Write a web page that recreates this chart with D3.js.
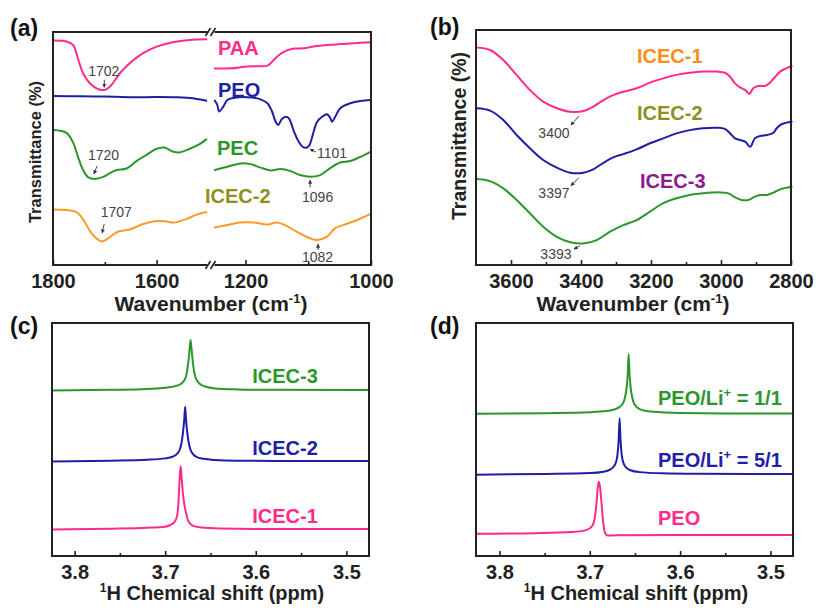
<!DOCTYPE html>
<html><head><meta charset="utf-8">
<script src="https://cdn.jsdelivr.net/npm/d3@7"></script>
<style>body{margin:0;background:#fff}svg{display:block}</style>
</head><body><svg id="c" width="816" height="608"></svg>
<script>
// ================= DATA =================
// Panel (a) FTIR, broken wavenumber axis (1800-1500 | 1255-1000), transmittance a.u.
const aTicksMajorLow = [1800, 1600];
const aTicksMinorLow = [1700];
const aTicksMajorHigh = [1200, 1000];
const aTicksMinorHigh = [1100];
const aSeriesNames = ["PAA", "PEO", "PEC", "ICEC-2"];
const aPAALow = [[1800,96.3],[1774,95.9],[1761,94.4],[1751,88.0],[1742,82.3],[1729,78.0],[1716,75.8],[1706,75.1],[1697,75.4],[1687,77.3],[1671,82.3],[1652,86.6],[1626,90.9],[1600,93.7],[1569,95.6],[1537,96.6],[1504,96.9]];
const aPAAHigh = [[1249,84.3],[1224,84.4],[1197,85.2],[1176,85.3],[1165,85.6],[1158,87.1],[1150,89.4],[1139,91.5],[1128,92.6],[1120,92.9],[1107,93.0],[1091,93.8],[1070,94.4],[1049,94.8],[1027,95.2],[1001,95.6]];
const aPEOLow = [[1800,72.5],[1750,72.4],[1700,72.3],[1650,72.0],[1600,72.1],[1560,72.0],[1530,71.6],[1515,71.0],[1504,70.5]];
const aPEOHigh = [[1249,70.6],[1245,68.7],[1242,65.9],[1235,68.2],[1229,70.8],[1219,71.7],[1197,72.0],[1176,71.1],[1165,69.4],[1158,66.1],[1152,61.5],[1148,60.1],[1142,62.7],[1136,63.6],[1131,63.0],[1123,57.5],[1115,52.8],[1108,50.6],[1102,50.4],[1098,51.5],[1094,54.7],[1086,61.4],[1078,63.6],[1070,64.7],[1065,63.1],[1062,61.5],[1057,63.6],[1049,67.3],[1033,69.4],[1017,70.4],[1001,70.8]];
const aPECLow = [[1800,57.9],[1774,56.7],[1761,52.4],[1751,45.9],[1742,40.8],[1732,37.6],[1719,36.9],[1703,37.8],[1690,39.4],[1677,40.8],[1658,41.4],[1639,44.6],[1620,47.2],[1601,49.8],[1585,50.4],[1569,48.7],[1556,48.3],[1537,49.8],[1517,51.9],[1504,53.9]];
const aPECHigh = [[1249,40.8],[1229,42.2],[1208,43.6],[1192,43.3],[1176,41.8],[1160,40.6],[1144,41.2],[1128,40.3],[1113,38.6],[1097,37.9],[1081,38.6],[1065,41.6],[1049,44.0],[1033,44.6],[1017,46.4],[1001,48.6]];
const aICEC2Low = [[1800,23.8],[1761,23.2],[1752,22.3],[1740,18.9],[1726,13.7],[1713,10.9],[1705,10.1],[1690,12.0],[1674,14.4],[1652,15.2],[1626,17.6],[1600,18.9],[1581,18.7],[1567,18.2],[1543,19.7],[1524,21.5],[1504,22.7]];
const aICEC2High = [[1249,16.1],[1229,17.2],[1208,18.2],[1187,18.2],[1165,17.4],[1150,18.2],[1134,16.7],[1118,14.2],[1102,12.0],[1086,10.7],[1070,12.2],[1057,15.8],[1044,17.2],[1022,19.3],[1001,21.9]];
const aPeakLabels = ["1702", "1720", "1707", "1101", "1096", "1082"];

// Panel (b) FTIR 3700-2800
const bTicksMajor = [3600, 3400, 3200, 3000, 2800];
const bTicksMinor = [3500, 3300, 3100, 2900];
const bSeriesNames = ["ICEC-1", "ICEC-2", "ICEC-3"];
const bICEC1 = [[3698,92.5],[3660,91.5],[3622,87.2],[3584,80.9],[3546,74.5],[3508,69.5],[3469,66.7],[3431,65.2],[3393,65.5],[3365,67.4],[3336,70.2],[3308,72.3],[3279,73.7],[3241,75.2],[3203,77.6],[3165,79.4],[3127,80.9],[3089,81.8],[3051,82.3],[3012,82.3],[2989,81.8],[2974,80.1],[2960,77.3],[2946,75.6],[2931,74.5],[2919,72.8],[2908,75.2],[2893,76.2],[2874,76.2],[2860,77.6],[2846,79.9],[2831,82.3],[2798,84.7]];
const bICEC2 = [[3698,66.7],[3660,65.7],[3622,61.7],[3584,55.3],[3546,49.7],[3508,44.7],[3469,41.4],[3431,39.3],[3393,39.3],[3365,40.7],[3336,43.5],[3308,45.8],[3279,47.2],[3241,49.2],[3203,51.8],[3165,53.9],[3127,56.0],[3089,57.4],[3051,58.2],[3012,58.4],[2989,57.9],[2974,56.0],[2960,53.9],[2946,53.2],[2931,52.5],[2917,50.3],[2903,53.9],[2888,54.9],[2869,55.3],[2850,56.3],[2841,58.2],[2826,60.0],[2798,61.0]];
const bICEC3 = [[3698,36.6],[3660,35.7],[3622,32.6],[3584,27.7],[3546,22.0],[3508,16.3],[3469,12.0],[3431,9.7],[3393,9.2],[3355,10.6],[3317,14.2],[3279,17.0],[3241,19.1],[3203,22.7],[3165,26.3],[3127,28.4],[3089,29.8],[3051,30.5],[3003,30.9],[2979,30.5],[2960,28.8],[2941,27.7],[2922,27.7],[2903,29.1],[2888,29.8],[2869,29.8],[2850,30.8],[2831,32.2],[2798,33.3]];
const bPeakLabels = ["3400", "3397", "3393"];

// Panels (c),(d) 1H NMR, chemical shift (ppm) vs intensity a.u.
const nmrTicksMajor = [3.8, 3.7, 3.6, 3.5];
const nmrTicksMinor = [3.75, 3.65, 3.55];
const cSeriesNames = ["ICEC-3", "ICEC-2", "ICEC-1"];
const cICEC3 = [[3.825,71.0],[3.76,71.3],[3.72,71.7],[3.70,72.2],[3.69,72.8],[3.684,73.6],[3.680,74.8],[3.677,77.2],[3.675,81.5],[3.6735,87],[3.672,92.7],[3.6705,87],[3.669,81.5],[3.667,77.2],[3.664,74.8],[3.660,73.4],[3.654,72.5],[3.645,71.9],[3.62,71.5],[3.58,71.3],[3.475,71.2]];
const cICEC2 = [[3.825,40.6],[3.76,40.9],[3.72,41.3],[3.70,41.9],[3.692,42.6],[3.687,43.8],[3.684,45.6],[3.682,48.5],[3.6805,52.5],[3.679,58.5],[3.678,64.1],[3.677,58.5],[3.6755,52.5],[3.674,48.5],[3.672,45.5],[3.669,43.6],[3.665,42.4],[3.658,41.7],[3.645,41.2],[3.62,40.9],[3.58,40.8],[3.475,40.8]];
const cICEC1 = [[3.825,11.4],[3.76,11.7],[3.72,12.1],[3.70,12.6],[3.695,13.2],[3.690,14.5],[3.687,17],[3.6855,22],[3.6845,30],[3.683,38.6],[3.682,34],[3.6805,27],[3.679,22.5],[3.677,18.5],[3.675,15.5],[3.672,13.7],[3.668,12.8],[3.66,12.2],[3.64,11.8],[3.60,11.6],[3.475,11.6]];
const dSeriesNames = ["1/1", "5/1", "PEO"];
const dRatio11 = [[3.826,61.0],[3.75,61.3],[3.70,61.7],[3.68,62.3],[3.672,63.0],[3.667,64.0],[3.663,65.7],[3.661,68],[3.6595,71.5],[3.658,78],[3.657,86.7],[3.656,78],[3.6545,71.5],[3.653,68],[3.651,65.5],[3.647,63.6],[3.642,62.6],[3.63,61.9],[3.60,61.4],[3.55,61.2],[3.475,61.2]];
const dRatio51 = [[3.826,34.9],[3.75,35.2],[3.70,35.6],[3.685,36.2],[3.678,37.0],[3.674,38.2],[3.671,40.2],[3.6695,43],[3.668,50],[3.667,59.1],[3.666,50],[3.6645,43],[3.663,40.2],[3.660,38.0],[3.655,36.8],[3.645,36.0],[3.62,35.5],[3.58,35.3],[3.475,35.2]];
const dPEO = [[3.826,9.5],[3.76,9.8],[3.72,10.3],[3.705,11.0],[3.699,12.2],[3.696,14.0],[3.694,17.5],[3.6925,23],[3.691,30],[3.690,31.9],[3.689,30.5],[3.6875,25],[3.686,18],[3.6845,12.5],[3.683,9.8],[3.680,8.8],[3.67,8.9],[3.60,9.0],[3.475,9.0]];

// ================= STYLE =================
const FONT = "Arial, 'Liberation Sans', Helvetica, sans-serif";
const INK = "#222";
const PINK = "#ff2a8c", BLUE = "#1e1ea6", GREEN = "#2b972b", ORANGE = "#ff9a2a";
const OLIVE = "#8f8f1c", PURPLE = "#8c1a8c", LORANGE = "#ff8c1a", GRAYTXT = "#444";

const svg = d3.select("#c");
svg.append("rect").attr("width", 816).attr("height", 608).attr("fill", "#fff");
const defs = svg.append("defs");
defs.append("marker").attr("id", "ah").attr("viewBox", "0 0 10 10").attr("refX", 9).attr("refY", 5)
  .attr("markerWidth", 4).attr("markerHeight", 4).attr("orient", "auto")
  .append("path").attr("d", "M0,0L10,5L0,10z").attr("fill", "#333");

function line(g, data, xs, ys, color, curve) {
  g.append("path").datum(data).attr("fill", "none").attr("stroke", color).attr("stroke-width", 2)
    .attr("stroke-linejoin", "round").attr("stroke-linecap", "round")
    .attr("d", d3.line().x(d => xs(d[0])).y(d => ys(d[1])).curve(curve || d3.curveCatmullRom.alpha(0.5)));
}
function frame(g, x0, y0, x1, y1) {
  g.append("rect").attr("x", x0).attr("y", y0).attr("width", x1 - x0).attr("height", y1 - y0)
    .attr("fill", "none").attr("stroke", INK).attr("stroke-width", 2);
}
function axis(g, scale, y, major, minor, fmt) {
  g.append("g").attr("transform", `translate(0,${y})`)
    .call(d3.axisBottom(scale).tickValues(minor).tickSize(-3).tickFormat(""))
    .call(a => { a.select(".domain").remove(); a.selectAll("line").attr("stroke", INK).attr("stroke-width", 1.6); });
  g.append("g").attr("transform", `translate(0,${y})`)
    .call(d3.axisBottom(scale).tickValues(major).tickSize(-5).tickPadding(8.5).tickFormat(fmt))
    .call(a => {
      a.select(".domain").remove();
      a.selectAll("line").attr("stroke", INK).attr("stroke-width", 1.6);
      a.selectAll("text").attr("font-family", FONT).attr("font-size", 20).attr("font-weight", "bold").attr("fill", INK);
    });
}
function txt(g, x, y, s, color, size, anchor, weight) {
  return g.append("text").attr("x", x).attr("y", y).attr("fill", color).attr("font-family", FONT)
    .attr("font-size", size).attr("font-weight", weight || "bold").attr("text-anchor", anchor || "start").text(s);
}
function annot(g, label, px, py, o) {
  txt(g, px + o.tdx, py + o.tdy, label, GRAYTXT, 14, o.anchor || "middle", "normal");
  g.append("line").attr("x1", px + o.a[0]).attr("y1", py + o.a[1]).attr("x2", px + o.a[2]).attr("y2", py + o.a[3])
    .attr("stroke", "#444").attr("stroke-width", 1).attr("marker-end", "url(#ah)");
}
function wavenumberLabel(g, cx, y) {
  const t = txt(g, cx, y, "Wavenumber (cm", INK, 21, "middle");
  t.append("tspan").attr("dy", -8).attr("font-size", 13).text("-1");
  t.append("tspan").attr("dy", 8).text(")");
}
function ylabel(g, x, y, size) {
  txt(g, 0, 0, "Transmittance (%)", INK, size, "middle").attr("transform", `translate(${x},${y}) rotate(-90)`);
}
function nmrLabel(g, cx, y) {
  const t = txt(g, cx, y, "", INK, 20, "middle");
  t.append("tspan").attr("font-size", 12).attr("dy", -8).text("1");
  t.append("tspan").attr("dy", 8).text("H Chemical shift (ppm)");
}

// ================= PANEL (a) =================
const ga = svg.append("g");
const xaL = d3.scaleLinear().domain([1800, 1495]).range([53, 211]);
const xaR = d3.scaleLinear().domain([1255, 1000]).range([211, 371]);
const ya = d3.scaleLinear().domain([0, 100]).range([265, 32]);
[[aPAALow, aPAAHigh, PINK], [aPEOLow, aPEOHigh, BLUE], [aPECLow, aPECHigh, GREEN], [aICEC2Low, aICEC2High, ORANGE]]
  .forEach(([lo, hi, c]) => { line(ga, lo, xaL, ya, c); line(ga, hi, xaR, ya, c); });
frame(ga, 53, 32, 371, 265);
axis(ga, xaL, 265, aTicksMajorLow, aTicksMinorLow, d3.format("d"));
axis(ga, xaR, 265, aTicksMajorHigh, aTicksMinorHigh, d3.format("d"));
// axis break marks
[32, 265].forEach(yb => {
  ga.append("rect").attr("x", 207.5).attr("y", yb - 3).attr("width", 7).attr("height", 6).attr("fill", "#fff");
  [205.5, 210.5].forEach(xb => ga.append("line").attr("x1", xb).attr("y1", yb + 4).attr("x2", xb + 5).attr("y2", yb - 4)
    .attr("stroke", INK).attr("stroke-width", 1.6));
});
const aColors = [PINK, BLUE, GREEN, OLIVE];
const aLabelPos = [[218, 55], [218, 97], [217, 155], [205, 203]];
aSeriesNames.forEach((n, i) => txt(ga, aLabelPos[i][0], aLabelPos[i][1], n, aColors[i], 20));
const aAnn = [
  { xs: xaL, wn: 1702, v: 75.2, tdx: 0, tdy: -14, a: [0.5, -10, 0.5, -2.5] },
  { xs: xaL, wn: 1719, v: 36.9, tdx: 8.5, tdy: -19, a: [2, -13, -1, -5] },
  { xs: xaL, wn: 1705, v: 10.1, tdx: 14, tdy: -24.5, a: [2, -17.5, 0, -8.5] },
  { xs: xaR, wn: 1102, v: 50.4, tdx: 10, tdy: 10.5, a: [9, 4.5, 3, 1.5], anchor: "start" },
  { xs: xaR, wn: 1097, v: 37.9, tdx: 7.5, tdy: 25.5, a: [0, 10.5, 0, 3.5] },
  { xs: xaR, wn: 1086, v: 10.7, tdx: 0.5, tdy: 22, a: [1, 10, 1, 4] }
];
aAnn.forEach((o, i) => annot(ga, aPeakLabels[i], o.xs(o.wn), ya(o.v), o));
wavenumberLabel(ga, 211, 311);
ylabel(ga, 41, 152, 16.5);
txt(ga, 10, 36, "(a)", "#111", 23);

// ================= PANEL (b) =================
const gb = svg.append("g");
const xb = d3.scaleLinear().domain([3700, 2800]).range([476, 791]);
const yb = d3.scaleLinear().domain([0, 100]).range([265, 30]);
line(gb, bICEC1, xb, yb, PINK); line(gb, bICEC2, xb, yb, BLUE); line(gb, bICEC3, xb, yb, GREEN);
frame(gb, 476, 30, 791, 265);
axis(gb, xb, 265, bTicksMajor, bTicksMinor, d3.format("d"));
const bColors = [LORANGE, OLIVE, PURPLE];
const bLabelPos = [[637, 63], [637, 120], [640, 188]];
bSeriesNames.forEach((n, i) => txt(gb, bLabelPos[i][0], bLabelPos[i][1], n, bColors[i], 20));
const bAnn = [
  { wn: 3393, v: 65.5, tdx: -29.5, tdy: 27, a: [-4.5, 5, -12.5, 14] },
  { wn: 3393, v: 39.3, tdx: -29.5, tdy: 25.4, a: [-4.5, 5, -12.5, 13] },
  { wn: 3393, v: 9.2, tdx: -27.5, tdy: 15.6, a: [-3.5, 2.6, -9.5, 5.6] }
];
bAnn.forEach((o, i) => annot(gb, bPeakLabels[i], xb(o.wn), yb(o.v), o));
wavenumberLabel(gb, 633, 311);
ylabel(gb, 466, 136, 19.5);
txt(gb, 430, 35, "(b)", "#111", 23);

// ================= PANEL (c) =================
const gc = svg.append("g");
const xc = d3.scaleLinear().domain([3.825, 3.475]).range([52, 369]);
const yc = d3.scaleLinear().domain([0, 100]).range([556, 323]);
line(gc, cICEC3, xc, yc, GREEN, d3.curveMonotoneX);
line(gc, cICEC2, xc, yc, BLUE, d3.curveMonotoneX);
line(gc, cICEC1, xc, yc, PINK, d3.curveMonotoneX);
frame(gc, 52, 323, 369, 556);
axis(gc, xc, 556, nmrTicksMajor, nmrTicksMinor, d3.format(".1f"));
const cColors = [GREEN, BLUE, PINK];
const cLabelY = [383, 455, 523];
cSeriesNames.forEach((n, i) => txt(gc, 285, cLabelY[i], n, cColors[i], 20, "middle"));
nmrLabel(gc, 212, 600);
txt(gc, 10, 334, "(c)", "#111", 23);

// ================= PANEL (d) =================
const gd = svg.append("g");
const xd = d3.scaleLinear().domain([3.826, 3.475]).range([476, 793]);
const yd = d3.scaleLinear().domain([0, 100]).range([556, 323]);
line(gd, dRatio11, xd, yd, GREEN, d3.curveMonotoneX);
line(gd, dRatio51, xd, yd, BLUE, d3.curveMonotoneX);
line(gd, dPEO, xd, yd, PINK, d3.curveMonotoneX);
frame(gd, 476, 323, 793, 556);
axis(gd, xd, 556, nmrTicksMajor, nmrTicksMinor, d3.format(".1f"));
const dColors = [GREEN, BLUE, PINK];
const dLabelY = [405, 467, 525];
dSeriesNames.forEach((n, i) => {
  if (n === "PEO") { txt(gd, 658, dLabelY[i], n, dColors[i], 20); return; }
  const t = txt(gd, 658, dLabelY[i], "PEO/Li", dColors[i], 20);
  t.append("tspan").attr("dy", -8).attr("font-size", 13).text("+");
  t.append("tspan").attr("dy", 8).text(" = " + n);
});
nmrLabel(gd, 636, 600);
txt(gd, 430, 334, "(d)", "#111", 23);
</script></body></html>
